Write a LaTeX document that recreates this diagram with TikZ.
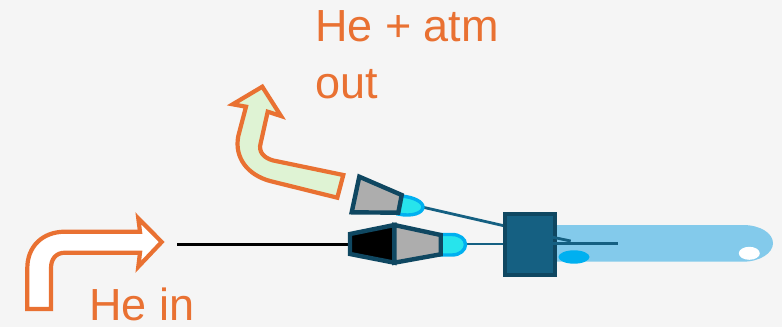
\documentclass[tikz,border=0pt]{standalone}
\usepackage{fontspec}
\setmainfont{Liberation Sans}
\definecolor{bgc}{HTML}{F5F5F5}
\definecolor{org}{HTML}{E97132}
\definecolor{dkb}{HTML}{0F4761}
\definecolor{midb}{HTML}{156082}
\definecolor{lgtb}{HTML}{83CAEB}
\definecolor{skyb}{HTML}{00B0F0}
\definecolor{cyn}{HTML}{27E4EC}
\definecolor{gry}{HTML}{ADADAD}
\definecolor{lgrn}{HTML}{DFF3D4}
\tikzset{
  bentarrow/.style={draw=org,line width=4.2pt,miter limit=10},
  cone/.style={draw=dkb,fill=gry,line width=4.4pt,line join=miter},
  tipshape/.style={draw=skyb,fill=cyn,line width=3.4pt},
  needle/.style={draw=midb,line width=2.8pt},
  lbl/.style={text=org,font=\fontsize{45}{45}\selectfont,anchor=base west,inner sep=0pt}
}
\begin{document}
\begin{tikzpicture}[x=1pt,y=-1pt]
\useasboundingbox (0,0) rectangle (782,327);
\fill[bgc] (0,0) rectangle (782,327);
% capillary
\fill[lgtb] (556,225) -- (743,225) .. controls (760,225) and (773,233) .. (773,243.3) .. controls (773,253) and (760,261.7) .. (743,261.7) -- (556,261.7) -- cycle;
\fill[skyb] (574,257) ellipse [x radius=15.5,y radius=6.7];
\fill[white] (749.3,253.3) ellipse [x radius=10.5,y radius=6.5];
% arrows
\draw[bentarrow,fill=white] (27.3,309) -- (51,309) -- (51,268) .. controls (51,259) and (56,252.7) .. (65,252.7) -- (140,252.7) -- (138.3,266.7) -- (161.7,242) -- (138.3,218.3) -- (140,231.7) -- (65,231.7) .. controls (42,231.7) and (27.3,247) .. (27.3,268) -- cycle;
\draw[bentarrow,fill=lgrn] (343.3,175) -- (337.3,197.7) -- (270,181) .. controls (248,175) and (234,158) .. (238.3,136) -- (246,106.7) -- (232.7,104.3) -- (262.3,86.7) -- (281,116) -- (267.7,111.7) -- (260.7,143) .. controls (258,152) and (264,158) .. (273.3,160.5) -- cycle;
% coordinates
\coordinate (upTip) at (422,207);
\coordinate (lowTip) at (465,244);
\coordinate (boxUp) at (505,226);
\coordinate (boxLow) at (505,244);
\coordinate (inEnd) at (177,244);
\coordinate (blackEnd) at (352,244);
\coordinate (n1s) at (553,237.3);
\coordinate (n1e) at (570.7,241);
\coordinate (n2s) at (553,243.5);
\coordinate (n2e) at (617.7,243.5);
% needles into box
\draw[needle] (upTip) -- (boxUp);
\draw[needle] (lowTip) -- (boxLow);
\draw[line width=3pt,black] (inEnd) -- (blackEnd);
% upper syringe
\draw[tipshape] (401,196) .. controls (414,197) and (423,202) .. (423,207) .. controls (423,213) and (412,217) .. (398,214) -- cycle;
\draw[cone] (359.3,176.7) -- (401.7,195) -- (398.3,212.7) -- (351.7,212.3) -- cycle;
% lower syringe
\draw[tipshape] (440,234.5) -- (452,234.5) .. controls (460,234.5) and (465.5,239) .. (465.5,244.5) .. controls (465.5,250) and (460,255) .. (452,255) -- (440,255) -- cycle;
\draw[cone,fill=black] (350,234) -- (394.3,225) -- (394.3,262.7) -- (350,254) -- cycle;
\draw[cone] (394.3,225) -- (440.7,235) -- (440.7,254.3) -- (394.3,262.7) -- cycle;
% box
\node[draw=dkb,fill=midb,line width=4pt,minimum width=50pt,minimum height=61pt,inner sep=0pt] (box) at (529.7,244.7) {};
\draw[needle] (n1s) -- (n1e);
\draw[needle] (n2s) -- (n2e);
% labels
\node[lbl] (t1) at (315,41) {He + atm};
\node[lbl] (t2) at (315,98.5) {out};
\node[lbl] (t3) at (89,320.5) {He in};
\end{tikzpicture}
\end{document}
